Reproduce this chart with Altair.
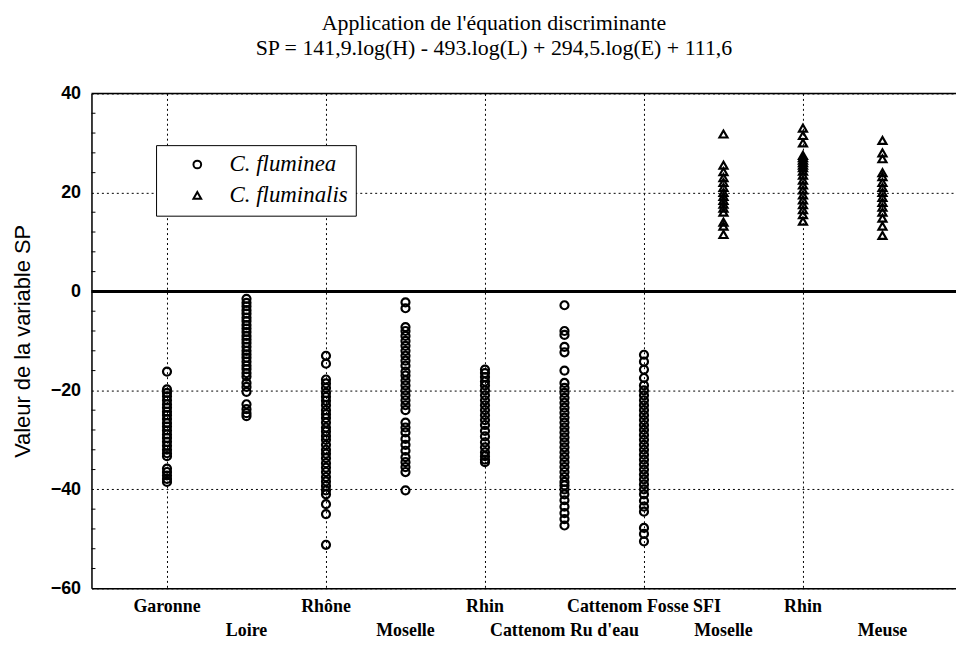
import altair as alt
import pandas as pd

# ---- data ----
sites = ["Garonne", "Loire", "Rhône", "Moselle", "Rhin", "Cattenom Ru d'eau",
         "Cattenom Fosse SFI", "Moselle", "Rhin", "Meuse"]
species_of_site = ["C. fluminea"] * 7 + ["C. fluminalis"] * 3

garonne = [-16.2, -19.8, -20.5, -21.2, -22.0, -22.8, -23.5, -24.3, -25.0, -25.8, -26.6,
           -27.3, -28.1, -28.9, -29.6, -30.4, -31.2, -32.0, -32.7, -33.3, -35.8, -36.5,
           -37.2, -37.9, -38.5]
loire = [-1.5, -2.3, -3.0, -3.8, -4.5, -5.3, -6.0, -6.8, -7.5, -8.2, -9.0, -9.7, -10.4,
         -11.2, -12.0, -12.7, -13.4, -14.2, -15.0, -15.7, -16.5, -17.2, -18.5, -19.3,
         -20.3, -22.8, -23.8, -24.6, -25.2]
rhone = [-13.0, -14.6, -17.8, -18.6, -19.5, -20.5, -21.3, -22.1, -23.0, -24.0, -24.8,
         -25.6, -26.5, -27.5, -28.3, -29.2, -30.0, -31.0, -32.0, -32.8, -33.7, -34.7,
         -35.6, -36.5, -37.5, -38.4, -39.3, -40.2, -41.0, -43.0, -45.0, -51.2]
moselle = [-2.2, -3.4, -7.2, -8.0, -9.0, -10.0, -11.0, -12.0, -13.0, -14.0, -15.0, -16.2,
           -17.0, -18.0, -19.0, -20.0, -21.0, -22.0, -23.0, -24.0, -26.5, -27.5, -28.5,
           -29.8, -31.0, -32.2, -33.5, -34.5, -35.5, -36.5, -40.2]
rhin = [-15.8, -16.5, -17.3, -18.2, -19.0, -20.0, -21.0, -22.0, -23.0, -24.0, -25.0,
        -26.0, -27.0, -28.2, -29.3, -30.5, -31.5, -32.5, -33.3, -34.0, -34.5]
cattenom_ru = [-2.8, -8.0, -8.8, -11.2, -12.3, -16.0, -18.5, -19.5, -20.5, -21.5, -22.5,
               -23.5, -24.5, -25.5, -26.5, -27.5, -28.5, -29.5, -30.5, -31.5, -32.5,
               -33.5, -34.5, -35.5, -36.5, -37.5, -38.5, -39.2, -40.0, -41.0, -42.2,
               -43.5, -44.8, -46.0, -47.3]
cattenom_fosse = [-12.8, -14.2, -15.8, -17.5, -19.0, -20.0, -21.0, -22.0, -23.0, -24.0,
                  -25.0, -26.0, -27.0, -28.0, -29.0, -30.0, -31.0, -32.0, -33.0, -34.0,
                  -35.0, -36.0, -37.0, -38.0, -39.0, -40.0, -41.0, -42.3, -43.5, -44.5,
                  -47.8, -49.0, -50.5]
moselle_fl = [31.8, 25.5, 24.2, 23.0, 22.0, 21.0, 20.0, 19.2, 18.4, 17.6, 16.8, 16.0,
              14.0, 13.2, 11.5]
rhin_fl = [33.0, 31.5, 30.0, 27.5, 27.0, 26.5, 26.0, 25.5, 25.0, 24.3, 23.5, 22.5, 21.5,
           20.5, 19.5, 18.5, 17.5, 16.5, 15.5, 14.2]
meuse_fl = [30.5, 28.0, 26.8, 24.0, 23.2, 22.0, 21.0, 20.0, 19.0, 18.0, 17.0, 16.0,
            14.8, 13.2, 11.3]

site_values = [garonne, loire, rhone, moselle, rhin, cattenom_ru, cattenom_fosse,
               moselle_fl, rhin_fl, meuse_fl]

y_ticks = [-60, -40, -20, 0, 20, 40]
minor_ticks = [-56, -52, -48, -44, -36, -32, -28, -24, -16, -12, -8, -4,
               4, 8, 12, 16, 24, 28, 32, 36]

title_lines = ["Application de l'équation discriminante",
               "SP = 141,9.log(H) - 493.log(L) + 294,5.log(E) + 111,6"]

# ---- tables ----
rows = []
for i, (site, sp, vals) in enumerate(zip(sites, species_of_site, site_values)):
    for v in vals:
        rows.append({"pos": i, "site": site, "species": sp, "SP": v})
df = pd.DataFrame(rows)

labels_df = pd.DataFrame({"pos": list(range(len(sites))), "site": sites,
                          "row": [i % 2 for i in range(len(sites))]})

W, H = 870, 498

x_scale = alt.Scale(domain=[-0.95, 9.925], nice=False, zero=False)
y_scale = alt.Scale(domain=[-60, 40], nice=False, zero=False)

x_enc = alt.X("pos:Q", scale=x_scale,
              axis=alt.Axis(values=[0, 2, 4, 6, 8], grid=True, gridDash=[2, 3],
                            gridColor="black", gridWidth=1, gridOpacity=1,
                            labels=False, ticks=False, domain=True,
                            domainColor="black", domainWidth=1.5, title=None))
y_enc = alt.Y("SP:Q", scale=y_scale,
              axis=alt.Axis(values=y_ticks, grid=True, gridDash=[2, 3],
                            gridColor="black", gridWidth=1, gridOpacity=1,
                            ticks=False, domain=True, domainColor="black",
                            domainWidth=1.5, labelFont="Liberation Sans",
                            labelFontWeight="bold", labelFontSize=18,
                            labelColor="black", labelPadding=11,
                            title="Valeur de la variable SP",
                            titleFont="Liberation Sans", titleFontSize=22,
                            titleFontWeight="normal", titleColor="black",
                            titlePadding=16))

points = alt.Chart(df).mark_point(filled=False, color="black", strokeWidth=2.2,
                                  size=65, opacity=1).encode(
    x=x_enc,
    y=y_enc,
    shape=alt.Shape("species:N",
                    scale=alt.Scale(domain=["C. fluminea", "C. fluminalis"],
                                    range=["circle", "triangle-up"]),
                    legend=alt.Legend(title=None, orient="none", legendX=65,
                                      legendY=52, strokeColor="black",
                                      fillColor="white", padding=8,
                                      symbolOffset=22, labelOffset=21,
                                      labelFont="Liberation Serif",
                                      labelFontStyle="italic", labelFontSize=23,
                                      labelColor="black", rowPadding=7,
                                      symbolSize=60, symbolStrokeWidth=2,
                                      symbolStrokeColor="black")),
)

zero_line = alt.Chart(pd.DataFrame({"SP": [0]})).mark_rule(
    color="black", strokeWidth=3).encode(y=alt.Y("SP:Q", scale=y_scale))
top_line = alt.Chart(pd.DataFrame({"SP": [40]})).mark_rule(
    color="black", strokeWidth=1.5).encode(y=alt.Y("SP:Q", scale=y_scale))
minor = alt.Chart(pd.DataFrame({"SP": minor_ticks})).mark_rule(
    color="black", strokeWidth=1).encode(
    y=alt.Y("SP:Q", scale=y_scale), x=alt.value(0), x2=alt.value(4))

upper_labels = alt.Chart(labels_df).transform_filter("datum.row == 0").mark_text(
    font="Liberation Serif", fontWeight="bold", fontSize=18, color="black",
    baseline="middle", align="center").encode(
    x=alt.X("pos:Q", scale=x_scale), y=alt.value(H + 19), text="site:N")
lower_labels = alt.Chart(labels_df).transform_filter("datum.row == 1").mark_text(
    font="Liberation Serif", fontWeight="bold", fontSize=18, color="black",
    baseline="middle", align="center").encode(
    x=alt.X("pos:Q", scale=x_scale), y=alt.value(H + 43), text="site:N")

chart = alt.layer(minor, points, zero_line, top_line, upper_labels, lower_labels).properties(
    width=W, height=H,
    autosize=alt.AutoSizeParams(type="none"),
    padding={"left": 84, "top": 84, "right": 0, "bottom": 51},
    title=alt.Title(title_lines, font="Liberation Serif", fontSize=22,
                    fontWeight="normal", color="black", lineHeight=25,
                    anchor="middle", dx=-30, offset=25),
).configure_view(stroke=None).configure(background="white")

chart.save("out.html", embed_options={"renderer": "svg", "actions": False})
